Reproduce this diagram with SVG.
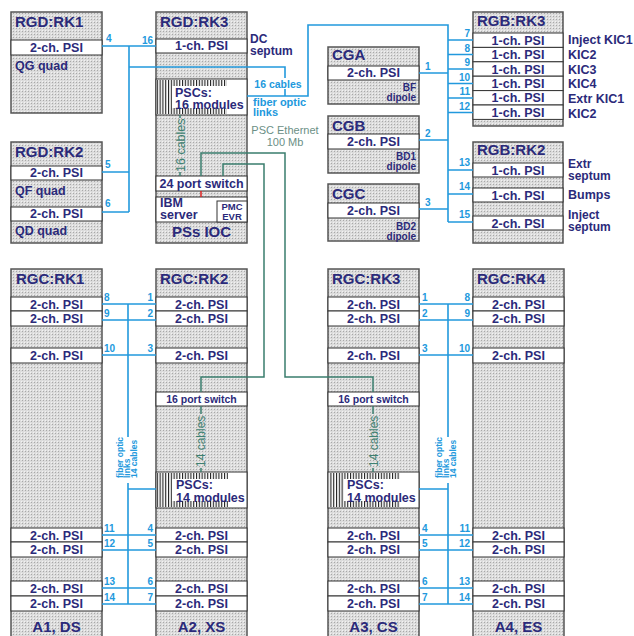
<svg xmlns="http://www.w3.org/2000/svg" width="634" height="636" viewBox="0 0 634 636">
<defs>
<pattern id="dots" width="3" height="3" patternUnits="userSpaceOnUse"><rect width="3" height="3" fill="#dcdcdc"/><rect x="1" y="1" width="1" height="1" fill="#a8a8a8"/><rect x="0" y="0" width="1" height="1" fill="#f2f2f2"/></pattern>
<pattern id="hatch" width="2.8" height="4" patternUnits="userSpaceOnUse"><rect width="2.8" height="4" fill="#fff"/><rect width="1.1" height="4" fill="#222"/></pattern>
<style>
.rack{fill:url(#dots);stroke:#555;stroke-width:1.5}
.row{fill:#fff;stroke:#333;stroke-width:1}
.hat{fill:url(#hatch)}
.t{font-family:"Liberation Sans",Arial,sans-serif;font-weight:bold;fill:#2b2a7a}
.ttl{font-size:15px}
.psi{font-size:12.5px;text-anchor:middle}
.lbl{font-size:12.5px}
.two{font-size:12px}
.sm{font-size:10px;text-anchor:end}
.mid{text-anchor:middle}
.fib{stroke:#2299dd;stroke-width:1.6;fill:none}
.num{font-family:"Liberation Sans",Arial,sans-serif;font-weight:bold;font-size:10px;fill:#2299dd}
.e{text-anchor:end}
.eth{stroke:#3a7d6d;stroke-width:1.5;fill:none}
.gt{font-family:"Liberation Sans",Arial,sans-serif;font-size:12.5px;fill:#3f8171}
.ft{font-family:"Liberation Sans",Arial,sans-serif;font-weight:bold;font-size:8.5px;fill:#2299dd}
</style>
</defs>

<g id="rgd-rk1">
<rect class="rack" x="11" y="12" width="91" height="101"/>
<text class="t ttl" x="15" y="27">RGD:RK1</text>
<rect class="row" x="11" y="40" width="91" height="15"/>
<text class="t psi" x="56.5" y="52">2-ch. PSI</text>
<text class="t lbl" x="15" y="70">QG quad</text>
</g>

<g id="rgd-rk2">
<rect class="rack" x="11" y="142" width="91" height="101"/>
<text class="t ttl" x="15" y="157">RGD:RK2</text>
<rect class="row" x="11" y="166" width="91" height="14"/>
<text class="t psi" x="56.5" y="177">2-ch. PSI</text>
<text class="t lbl" x="15" y="195">QF quad</text>
<rect class="row" x="11" y="207" width="91" height="14"/>
<text class="t psi" x="56.5" y="218">2-ch. PSI</text>
<text class="t lbl" x="15" y="235">QD quad</text>
</g>

<g id="rgd-rk3">
<rect class="rack" x="156" y="12" width="91" height="231"/>
<text class="t ttl" x="160" y="27">RGD:RK3</text>
<rect class="row" x="156" y="39" width="91" height="14"/>
<text class="t psi" x="201.5" y="50">1-ch. PSI</text>
<text class="t two" x="250" y="43">DC</text>
<text class="t two" x="250" y="55">septum</text>
<rect class="row" x="156" y="79" width="91" height="36"/>
<rect class="hat" x="157" y="80" width="15" height="34"/>
<rect class="hat" x="172" y="80" width="55" height="6"/>
<rect class="hat" x="172" y="108" width="55" height="6"/>
<text class="t lbl" x="175" y="97">PSCs:</text>
<text class="t lbl" x="175" y="109">16 modules</text>
<text class="gt" transform="translate(185,172) rotate(-90)">16 cables</text>
<rect class="row" x="156" y="176" width="91" height="15"/>
<text class="t psi" x="201.5" y="188">24 port switch</text>
<rect class="row" x="156" y="197" width="91" height="25"/>
<text class="t lbl" x="160" y="207">IBM</text>
<text class="t lbl" x="160" y="219">server</text>
<rect class="row" x="217" y="201" width="30" height="21"/>
<text class="t mid" style="font-size:9.5px" x="232" y="210">PMC</text>
<text class="t mid" style="font-size:9.5px" x="232" y="219.5">EVR</text>
<text class="t ttl mid" x="201.5" y="237">PSs IOC</text>
</g>

<g id="cga">
<rect class="rack" x="328" y="47" width="91" height="57"/>
<text class="t ttl" x="332" y="60">CGA</text>
<rect class="row" x="328" y="66" width="91" height="14"/>
<text class="t psi" x="373.5" y="77">2-ch. PSI</text>
<text class="t sm" x="416" y="91">BF</text>
<text class="t sm" x="416" y="101">dipole</text>
</g>

<g id="cgb">
<rect class="rack" x="328" y="116" width="91" height="57"/>
<text class="t ttl" x="332" y="131">CGB</text>
<rect class="row" x="328" y="134" width="91" height="15"/>
<text class="t psi" x="373.5" y="146">2-ch. PSI</text>
<text class="t sm" x="416" y="160">BD1</text>
<text class="t sm" x="416" y="170">dipole</text>
</g>

<g id="cgc">
<rect class="rack" x="328" y="184" width="91" height="57"/>
<text class="t ttl" x="332" y="199">CGC</text>
<rect class="row" x="328" y="203" width="91" height="15"/>
<text class="t psi" x="373.5" y="215">2-ch. PSI</text>
<text class="t sm" x="416" y="230">BD2</text>
<text class="t sm" x="416" y="240">dipole</text>
</g>

<g id="rgb-rk3">
<rect class="rack" x="473" y="12" width="90" height="114"/>
<text class="t ttl" x="477" y="26">RGB:RK3</text>
<rect class="row" x="473" y="33" width="90" height="14.4"/>
<rect class="row" x="473" y="47.4" width="90" height="14.4"/>
<rect class="row" x="473" y="61.8" width="90" height="14.4"/>
<rect class="row" x="473" y="76.2" width="90" height="14.4"/>
<rect class="row" x="473" y="90.6" width="90" height="14.4"/>
<rect class="row" x="473" y="105" width="90" height="14.4"/>
<text class="t psi" x="518" y="44.5">1-ch. PSI</text>
<text class="t psi" x="518" y="59">1-ch. PSI</text>
<text class="t psi" x="518" y="73.5">1-ch. PSI</text>
<text class="t psi" x="518" y="88">1-ch. PSI</text>
<text class="t psi" x="518" y="102">1-ch. PSI</text>
<text class="t psi" x="518" y="116.5">1-ch. PSI</text>
<text class="t lbl" x="568" y="44">Inject KIC1</text>
<text class="t lbl" x="568" y="59">KIC2</text>
<text class="t lbl" x="568" y="74">KIC3</text>
<text class="t lbl" x="568" y="88">KIC4</text>
<text class="t lbl" x="568" y="103">Extr KIC1</text>
<text class="t lbl" x="568" y="118">KIC2</text>
</g>

<g id="rgb-rk2">
<rect class="rack" x="473" y="142" width="90" height="101"/>
<text class="t ttl" x="477" y="155">RGB:RK2</text>
<rect class="row" x="473" y="163" width="90" height="14"/>
<text class="t psi" x="518" y="174.5">1-ch. PSI</text>
<rect class="row" x="473" y="188" width="90" height="14"/>
<text class="t psi" x="518" y="199.5">1-ch. PSI</text>
<rect class="row" x="473" y="216" width="90" height="14"/>
<text class="t psi" x="518" y="227.5">2-ch. PSI</text>
<text class="t two" x="568" y="168">Extr</text>
<text class="t two" x="568" y="180">septum</text>
<text class="t lbl" x="568" y="199">Bumps</text>
<text class="t two" x="568" y="219">Inject</text>
<text class="t two" x="568" y="231">septum</text>
</g>

<g id="rgc-rk1">
<rect class="rack" x="11" y="269" width="91" height="372"/>
<text class="t ttl" x="16" y="284">RGC:RK1</text>
<rect class="row" x="11" y="297" width="91" height="14"/>
<rect class="row" x="11" y="311" width="91" height="15"/>
<rect class="row" x="11" y="348" width="91" height="15"/>
<rect class="row" x="11" y="528" width="91" height="14"/>
<rect class="row" x="11" y="542" width="91" height="15"/>
<rect class="row" x="11" y="581" width="91" height="15"/>
<rect class="row" x="11" y="596" width="91" height="15"/>
<text class="t psi" x="56.5" y="308.5">2-ch. PSI</text>
<text class="t psi" x="56.5" y="323">2-ch. PSI</text>
<text class="t psi" x="56.5" y="360">2-ch. PSI</text>
<text class="t psi" x="56.5" y="539.5">2-ch. PSI</text>
<text class="t psi" x="56.5" y="554">2-ch. PSI</text>
<text class="t psi" x="56.5" y="593">2-ch. PSI</text>
<text class="t psi" x="56.5" y="608">2-ch. PSI</text>
<text class="t ttl mid" x="56.5" y="632">A1, DS</text>
</g>

<g id="rgc-rk2">
<rect class="rack" x="156" y="269" width="91" height="372"/>
<text class="t ttl" x="160" y="284">RGC:RK2</text>
<rect class="row" x="156" y="297" width="91" height="14"/>
<rect class="row" x="156" y="311" width="91" height="15"/>
<rect class="row" x="156" y="348" width="91" height="15"/>
<rect class="row" x="156" y="392" width="91" height="14"/>
<rect class="row" x="156" y="472" width="91" height="36"/>
<rect class="hat" x="157" y="473" width="15" height="34"/>
<rect class="hat" x="172" y="473" width="56" height="6"/>
<rect class="hat" x="172" y="501" width="56" height="6"/>
<rect class="row" x="156" y="528" width="91" height="14"/>
<rect class="row" x="156" y="542" width="91" height="15"/>
<rect class="row" x="156" y="581" width="91" height="15"/>
<rect class="row" x="156" y="596" width="91" height="15"/>
<text class="t psi" x="201.5" y="308.5">2-ch. PSI</text>
<text class="t psi" x="201.5" y="323">2-ch. PSI</text>
<text class="t psi" x="201.5" y="360">2-ch. PSI</text>
<text class="t psi" style="font-size:10.5px" x="201.5" y="402.5">16 port switch</text>
<text class="gt" style="font-size:12px" transform="translate(205,467) rotate(-90)">14 cables</text>
<text class="t lbl" x="176" y="489">PSCs:</text>
<text class="t lbl" x="176" y="502">14 modules</text>
<text class="t psi" x="201.5" y="539.5">2-ch. PSI</text>
<text class="t psi" x="201.5" y="554">2-ch. PSI</text>
<text class="t psi" x="201.5" y="593">2-ch. PSI</text>
<text class="t psi" x="201.5" y="608">2-ch. PSI</text>
<text class="t ttl mid" x="201.5" y="632">A2, XS</text>
</g>

<g id="rgc-rk3">
<rect class="rack" x="328" y="269" width="91" height="372"/>
<text class="t ttl" x="332" y="284">RGC:RK3</text>
<rect class="row" x="328" y="297" width="91" height="14"/>
<rect class="row" x="328" y="311" width="91" height="15"/>
<rect class="row" x="328" y="348" width="91" height="15"/>
<rect class="row" x="328" y="392" width="91" height="14"/>
<rect class="row" x="328" y="472" width="91" height="36"/>
<rect class="hat" x="329" y="473" width="15" height="34"/>
<rect class="hat" x="344" y="473" width="56" height="6"/>
<rect class="hat" x="344" y="501" width="56" height="6"/>
<rect class="row" x="328" y="528" width="91" height="14"/>
<rect class="row" x="328" y="542" width="91" height="15"/>
<rect class="row" x="328" y="581" width="91" height="15"/>
<rect class="row" x="328" y="596" width="91" height="15"/>
<text class="t psi" x="373.5" y="308.5">2-ch. PSI</text>
<text class="t psi" x="373.5" y="323">2-ch. PSI</text>
<text class="t psi" x="373.5" y="360">2-ch. PSI</text>
<text class="t psi" style="font-size:10.5px" x="373.5" y="402.5">16 port switch</text>
<text class="gt" style="font-size:12px" transform="translate(378,467) rotate(-90)">14 cables</text>
<text class="t lbl" x="347" y="489">PSCs:</text>
<text class="t lbl" x="347" y="502">14 modules</text>
<text class="t psi" x="373.5" y="539.5">2-ch. PSI</text>
<text class="t psi" x="373.5" y="554">2-ch. PSI</text>
<text class="t psi" x="373.5" y="593">2-ch. PSI</text>
<text class="t psi" x="373.5" y="608">2-ch. PSI</text>
<text class="t ttl mid" x="373.5" y="632">A3, CS</text>
</g>

<g id="rgc-rk4">
<rect class="rack" x="473" y="269" width="91" height="372"/>
<text class="t ttl" x="477" y="284">RGC:RK4</text>
<rect class="row" x="473" y="297" width="91" height="14"/>
<rect class="row" x="473" y="311" width="91" height="15"/>
<rect class="row" x="473" y="348" width="91" height="15"/>
<rect class="row" x="473" y="528" width="91" height="14"/>
<rect class="row" x="473" y="542" width="91" height="15"/>
<rect class="row" x="473" y="581" width="91" height="15"/>
<rect class="row" x="473" y="596" width="91" height="15"/>
<text class="t psi" x="518.5" y="308.5">2-ch. PSI</text>
<text class="t psi" x="518.5" y="323">2-ch. PSI</text>
<text class="t psi" x="518.5" y="360">2-ch. PSI</text>
<text class="t psi" x="518.5" y="539.5">2-ch. PSI</text>
<text class="t psi" x="518.5" y="554">2-ch. PSI</text>
<text class="t psi" x="518.5" y="593">2-ch. PSI</text>
<text class="t psi" x="518.5" y="608">2-ch. PSI</text>
<text class="t ttl mid" x="518.5" y="632">A4, ES</text>
</g>

<g id="connectors">
<path class="fib" d="M102,46H156 M129,46V212 M102,172H129 M102,212H129"/>
<path class="fib" d="M129,67H285V78 M285,89V96 M247,96H308V25H448V222"/>
<path class="fib" d="M448,40H473 M448,54.5H473 M448,69H473 M448,83.5H473 M448,98H473 M448,112.5H473"/>
<path class="fib" d="M419,73H448 M419,140H448 M419,209H448 M448,170H473 M448,194H473 M448,222H473"/>
<text class="num" x="106" y="42">4</text>
<text class="num e" x="153" y="44">16</text>
<text class="num" x="105" y="168">5</text>
<text class="num" x="105" y="207">6</text>
<text class="num" x="425" y="70">1</text>
<text class="num" x="425" y="137">2</text>
<text class="num" x="425" y="206">3</text>
<text class="num e" x="470" y="37">7</text>
<text class="num e" x="470" y="51.5">8</text>
<text class="num e" x="470" y="66">9</text>
<text class="num e" x="470" y="81">10</text>
<text class="num e" x="470" y="95">11</text>
<text class="num e" x="470" y="110">12</text>
<text class="num e" x="470" y="166">13</text>
<text class="num e" x="470" y="190">14</text>
<text class="num e" x="470" y="218">15</text>
<text class="ft mid" style="font-size:10.5px" x="278" y="88">16 cables</text>
<text class="ft" style="font-size:11px" x="253" y="106">fiber optic</text>
<text class="ft" style="font-size:11px" x="253" y="116">links</text>
<text class="gt mid" style="font-size:11px;fill:#6b8f86" x="285" y="134">PSC Ethernet</text>
<text class="gt mid" style="font-size:11px;fill:#6b8f86" x="285" y="146">100 Mb</text>

<path class="eth" d="M201,176V153H285V377H373V392"/>
<path class="eth" d="M223,176V164H264V377H201V392"/>
<path class="eth" d="M180,115V118 M180,172V176 M201,406V414 M201,468V472 M373,406V414 M373,468V472"/>
<path d="M201,191V197" stroke="#dd2222" stroke-width="1.5"/>

<path class="fib" d="M128,304V437 M128,483V604 M102,304H156 M102,320H156 M102,355H156 M102,535H156 M102,550H156 M102,588H156 M102,604H156 M128,489H156"/>
<text class="ft" transform="translate(123,478) rotate(-90)">fiber optic</text>
<text class="ft" transform="translate(130,478) rotate(-90)">links</text>
<text class="ft" transform="translate(137,478) rotate(-90)">14 cables</text>
<text class="num" x="104" y="301">8</text>
<text class="num" x="104" y="317">9</text>
<text class="num" x="104" y="352">10</text>
<text class="num" x="104" y="532">11</text>
<text class="num" x="104" y="547">12</text>
<text class="num" x="104" y="585">13</text>
<text class="num" x="104" y="601">14</text>
<text class="num e" x="153" y="301">1</text>
<text class="num e" x="153" y="317">2</text>
<text class="num e" x="153" y="352">3</text>
<text class="num e" x="153" y="532">4</text>
<text class="num e" x="153" y="547">5</text>
<text class="num e" x="153" y="585">6</text>
<text class="num e" x="153" y="601">7</text>

<path class="fib" d="M448,304V437 M448,483V604 M419,304H473 M419,320H473 M419,355H473 M419,535H473 M419,550H473 M419,588H473 M419,604H473 M419,489H448"/>
<text class="ft" transform="translate(442,478) rotate(-90)">fiber optic</text>
<text class="ft" transform="translate(449,478) rotate(-90)">links</text>
<text class="ft" transform="translate(456,478) rotate(-90)">14 cables</text>
<text class="num" x="422" y="301">1</text>
<text class="num" x="422" y="317">2</text>
<text class="num" x="422" y="352">3</text>
<text class="num" x="422" y="532">4</text>
<text class="num" x="422" y="547">5</text>
<text class="num" x="422" y="585">6</text>
<text class="num" x="422" y="601">7</text>
<text class="num e" x="470" y="301">8</text>
<text class="num e" x="470" y="317">9</text>
<text class="num e" x="470" y="352">10</text>
<text class="num e" x="470" y="532">11</text>
<text class="num e" x="470" y="547">12</text>
<text class="num e" x="470" y="585">13</text>
<text class="num e" x="470" y="601">14</text>
</g>
</svg>
